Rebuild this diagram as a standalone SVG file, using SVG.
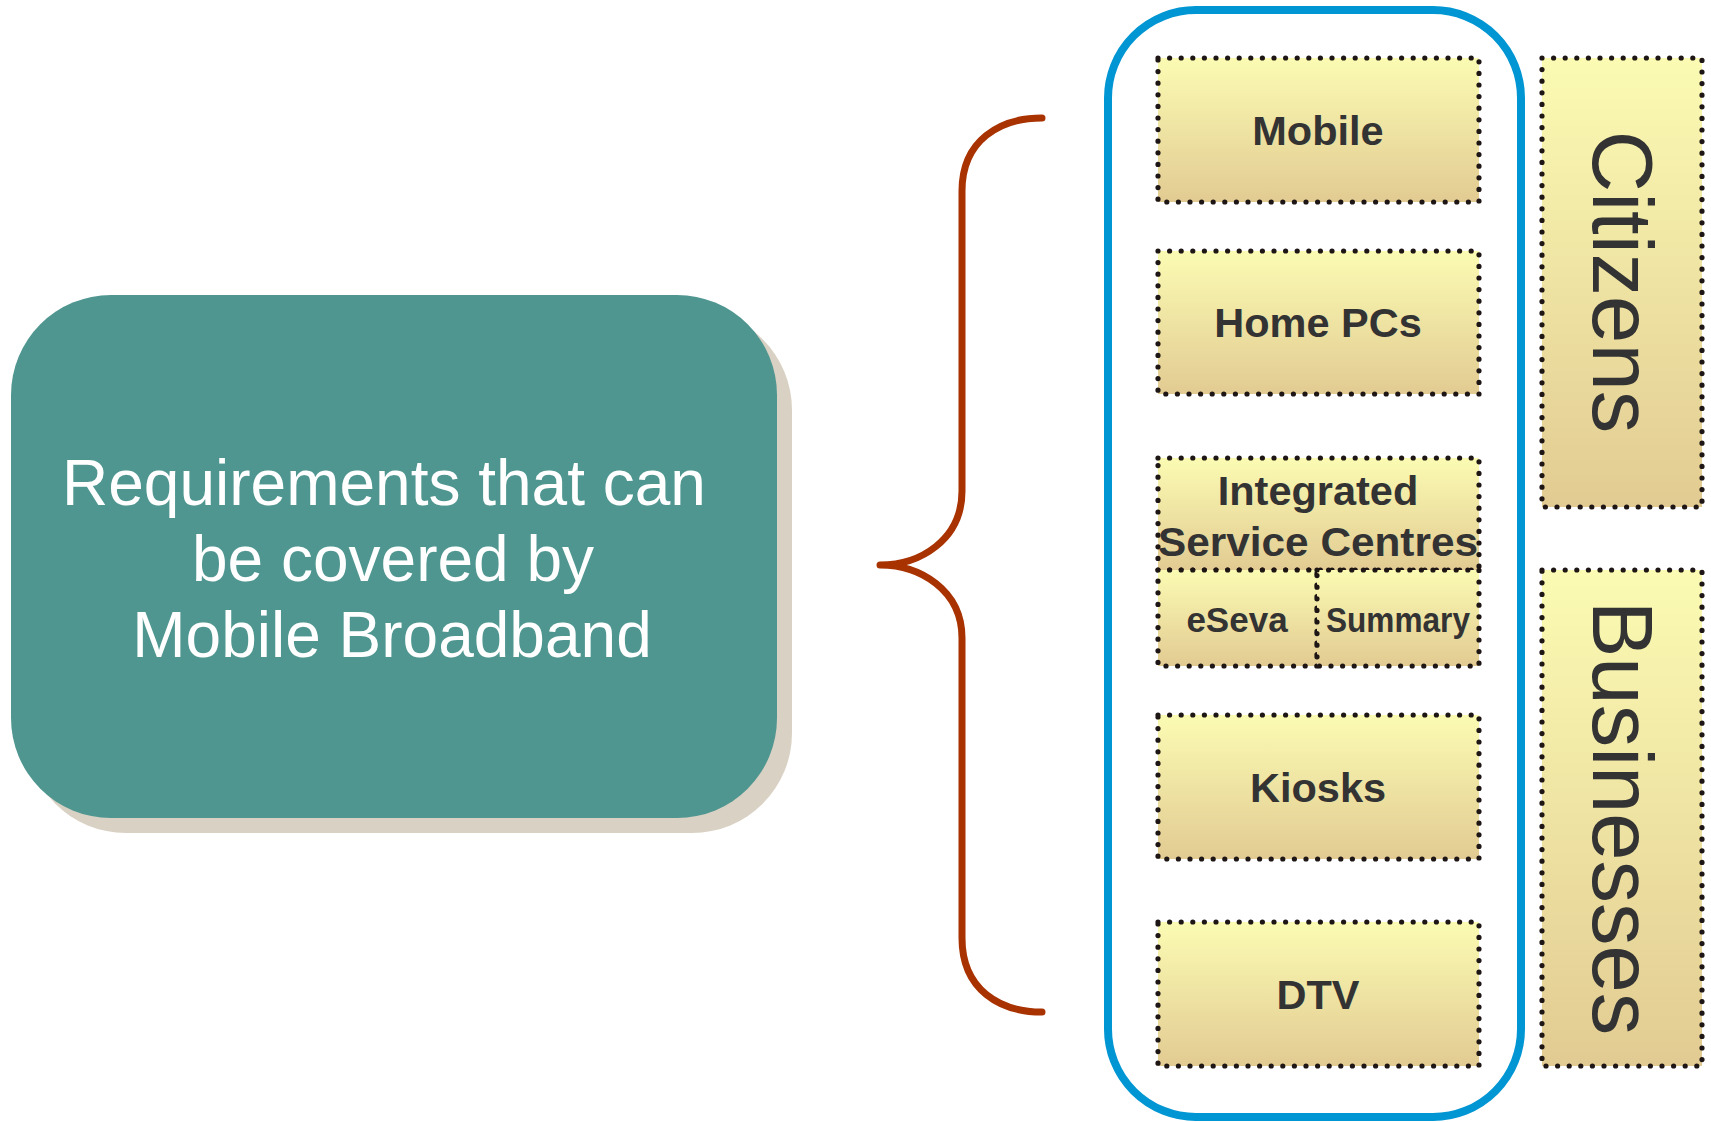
<svg xmlns="http://www.w3.org/2000/svg" width="1711" height="1122" viewBox="0 0 1711 1122">
  <defs>
    <linearGradient id="tan" x1="0" y1="0" x2="0" y2="1">
      <stop offset="0" stop-color="#fbfbb3"/>
      <stop offset="1" stop-color="#e2cb92"/>
    </linearGradient>
    <style>
      .box { fill: url(#tan); stroke: #1e1515; stroke-width: 5.2; stroke-dasharray: 0 11.6; stroke-linecap: round; }
      .lbl { font-family: "Liberation Sans", Arial, sans-serif; font-weight: bold; fill: #333333; text-anchor: middle; }
      .side { font-family: "Liberation Sans", Arial, sans-serif; fill: #333333; text-anchor: middle; font-size: 85px; }
      .main { font-family: "Liberation Sans", Arial, sans-serif; fill: #ffffff; text-anchor: middle; font-size: 64px; }
    </style>
  </defs>
  <rect width="1711" height="1122" fill="#ffffff"/>

  <!-- statement box with drop shadow -->
  <g id="requirements">
    <rect x="26" y="310" width="766" height="523" rx="100" ry="100" fill="#d9d1c3"/>
    <rect x="11" y="295" width="766" height="523" rx="100" ry="100" fill="#4f9690"/>
    <text class="main" x="384" y="505">Requirements that can</text>
    <text class="main" x="393" y="581">be covered by</text>
    <text class="main" x="392" y="657">Mobile Broadband</text>
  </g>

  <!-- brace joining the statement to the channel list -->
  <g id="connectors">
    <path d="M1042,118 C1000,118 962,140 962,191 L962,491 C962,540 920,565 880,565 C920,565 962,590 962,638 L962,938 C962,990 1000,1012 1042,1012" fill="none" stroke="#a83200" stroke-width="7" stroke-linecap="round" stroke-linejoin="round"/>
  </g>

  <!-- channel container -->
  <g id="channels">
    <rect x="1108" y="10" width="413" height="1107" rx="88" ry="88" fill="#ffffff" stroke="#0096d3" stroke-width="8"/>
  </g>

  <g id="mobile">
    <rect class="box" x="1158" y="58" width="321" height="144"/>
    <text class="lbl" x="1318" y="145" font-size="41.5">Mobile</text>
  </g>
  <g id="home-pcs">
    <rect class="box" x="1158" y="251" width="321" height="143"/>
    <text class="lbl" x="1318" y="337" font-size="41.5">Home PCs</text>
  </g>
  <g id="isc">
    <rect class="box" x="1158" y="458" width="321" height="112"/>
    <text class="lbl" x="1318" y="505" font-size="41.5">Integrated</text>
    <text class="lbl" x="1318" y="556" font-size="41.5" textLength="320" lengthAdjust="spacingAndGlyphs">Service Centres</text>
  </g>
  <g id="eseva">
    <rect class="box" x="1158" y="570" width="159" height="96"/>
    <text class="lbl" x="1237" y="632" font-size="35">eSeva</text>
  </g>
  <g id="summary">
    <rect class="box" x="1317" y="570" width="162" height="96"/>
    <text class="lbl" x="1398" y="632" font-size="35" textLength="144" lengthAdjust="spacingAndGlyphs">Summary</text>
  </g>
  <g id="kiosks">
    <rect class="box" x="1158" y="715" width="321" height="144"/>
    <text class="lbl" x="1318" y="802" font-size="41.5">Kiosks</text>
  </g>
  <g id="dtv">
    <rect class="box" x="1158" y="922" width="321" height="144"/>
    <text class="lbl" x="1318" y="1009" font-size="41.5">DTV</text>
  </g>

  <!-- user groups, labels set vertically -->
  <g id="citizens">
    <rect class="box" x="1542" y="58" width="160" height="449"/>
    <text class="side" transform="translate(1593,282) rotate(90)">Citizens</text>
  </g>
  <g id="businesses">
    <rect class="box" x="1542" y="570" width="160" height="496"/>
    <text class="side" transform="translate(1593,818) rotate(90)">Businesses</text>
  </g>
</svg>
